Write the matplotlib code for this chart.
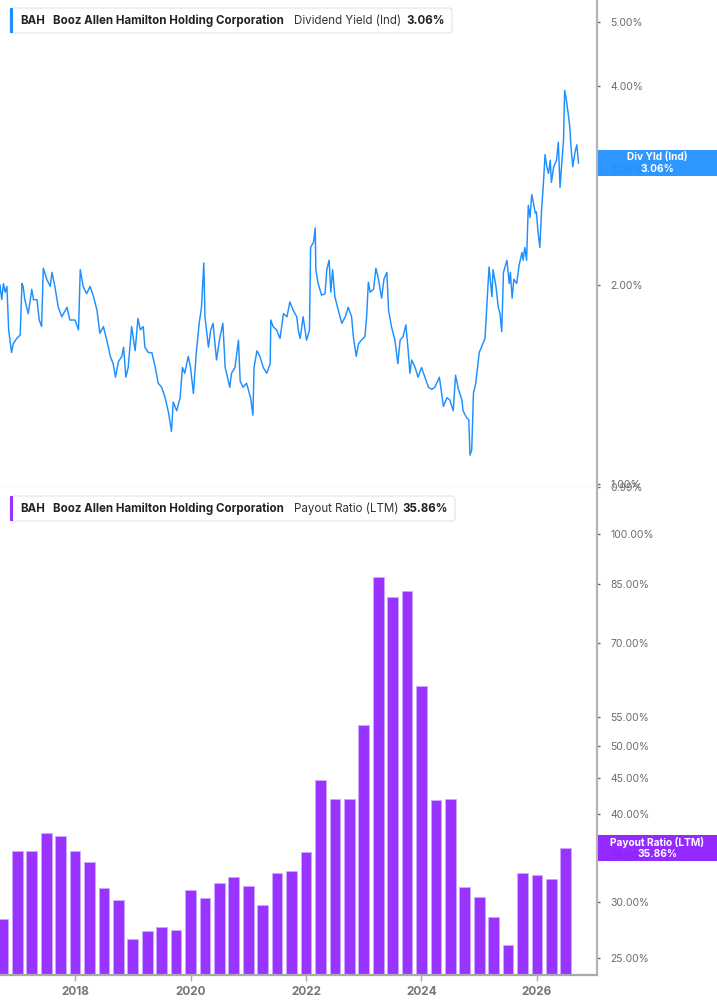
import matplotlib
matplotlib.use("Agg")
import matplotlib.pyplot as plt
from matplotlib.patches import FancyBboxPatch, Rectangle
from matplotlib.ticker import FixedLocator, FuncFormatter, NullLocator

plt.rcParams['font.family'] = ['Inter', 'DejaVu Sans']

# ---------------- data ----------------
ticker = "BAH"
company = "Booz Allen Hamilton Holding Corporation"
top_metric = "Dividend Yield (Ind)"
top_last = "3.06%"
top_tag = "Div Yld (Ind)"
bot_metric = "Payout Ratio (LTM)"
bot_last = "35.86%"
bot_tag = "Payout Ratio (LTM)"

# dividend yield (%), dates as decimal years
yield_dates = [2016.70, 2016.73, 2016.76, 2016.79, 2016.82, 2016.85, 2016.90, 2016.93, 2016.99, 2017.05,
               2017.08, 2017.10, 2017.13, 2017.19, 2017.25, 2017.28, 2017.34, 2017.38, 2017.42, 2017.45,
               2017.51, 2017.57, 2017.60, 2017.65, 2017.71, 2017.77, 2017.86, 2017.91, 2018.00, 2018.06,
               2018.09, 2018.14, 2018.20, 2018.26, 2018.32, 2018.38, 2018.43, 2018.49, 2018.55, 2018.61,
               2018.66, 2018.70, 2018.75, 2018.81, 2018.84, 2018.88, 2018.92, 2018.98, 2019.04, 2019.09,
               2019.13, 2019.18, 2019.21, 2019.27, 2019.33, 2019.39, 2019.44, 2019.50, 2019.56, 2019.62,
               2019.67, 2019.70, 2019.76, 2019.82, 2019.86, 2019.90, 2019.96, 2020.00, 2020.05, 2020.10,
               2020.15, 2020.19, 2020.23, 2020.25, 2020.31, 2020.35, 2020.39, 2020.45, 2020.50, 2020.56,
               2020.60, 2020.68, 2020.71, 2020.77, 2020.83, 2020.86, 2020.91, 2020.97, 2021.04, 2021.08,
               2021.10, 2021.15, 2021.20, 2021.26, 2021.32, 2021.38, 2021.39, 2021.43, 2021.49, 2021.55,
               2021.61, 2021.67, 2021.72, 2021.78, 2021.84, 2021.87, 2021.90, 2021.95, 2022.01, 2022.06,
               2022.08, 2022.13, 2022.16, 2022.17, 2022.21, 2022.27, 2022.33, 2022.36, 2022.40, 2022.43,
               2022.46, 2022.50, 2022.56, 2022.62, 2022.68, 2022.73, 2022.79, 2022.82, 2022.87, 2022.91,
               2022.96, 2023.02, 2023.05, 2023.08, 2023.11, 2023.17, 2023.21, 2023.25, 2023.31, 2023.35,
               2023.40, 2023.43, 2023.48, 2023.54, 2023.59, 2023.63, 2023.68, 2023.73, 2023.77, 2023.80,
               2023.83, 2023.89, 2023.94, 2024.00, 2024.06, 2024.12, 2024.18, 2024.23, 2024.31, 2024.35,
               2024.38, 2024.44, 2024.49, 2024.55, 2024.59, 2024.64, 2024.70, 2024.72, 2024.78, 2024.82,
               2024.84, 2024.87, 2024.90, 2024.94, 2024.97, 2025.00, 2025.05, 2025.10, 2025.13, 2025.17,
               2025.22, 2025.24, 2025.29, 2025.33, 2025.36, 2025.39, 2025.42, 2025.48, 2025.52, 2025.54,
               2025.57, 2025.60, 2025.65, 2025.69, 2025.74, 2025.76, 2025.79, 2025.82, 2025.85, 2025.88,
               2025.91, 2025.94, 2025.97, 2025.99, 2026.02, 2026.05, 2026.08, 2026.11, 2026.14, 2026.17,
               2026.20, 2026.23, 2026.25, 2026.29, 2026.34, 2026.37, 2026.40, 2026.43, 2026.46, 2026.48,
               2026.51, 2026.54, 2026.57, 2026.59, 2026.62, 2026.66, 2026.69, 2026.72]
yield_vals = [2.00, 1.90, 2.01, 1.95, 1.99, 1.71, 1.58, 1.63, 1.66, 1.68,
              2.01, 1.99, 1.90, 1.81, 1.97, 1.90, 1.90, 1.77, 1.73, 2.12,
              2.04, 1.99, 2.09, 1.99, 1.85, 1.79, 1.85, 1.77, 1.77, 1.71,
              2.11, 1.99, 1.94, 1.99, 1.92, 1.83, 1.69, 1.73, 1.65, 1.56,
              1.52, 1.45, 1.53, 1.56, 1.61, 1.45, 1.50, 1.73, 1.59, 1.78,
              1.71, 1.73, 1.61, 1.58, 1.58, 1.50, 1.42, 1.40, 1.35, 1.28,
              1.20, 1.33, 1.29, 1.35, 1.50, 1.47, 1.56, 1.50, 1.37, 1.58,
              1.75, 1.85, 2.16, 1.79, 1.61, 1.71, 1.75, 1.54, 1.65, 1.75,
              1.50, 1.40, 1.47, 1.50, 1.65, 1.43, 1.40, 1.42, 1.35, 1.27,
              1.50, 1.59, 1.56, 1.50, 1.47, 1.52, 1.77, 1.73, 1.71, 1.66,
              1.81, 1.79, 1.885, 1.83, 1.79, 1.70, 1.66, 1.79, 1.65, 1.71,
              2.28, 2.32, 2.44, 2.11, 2.01, 1.93, 1.94, 2.11, 2.18, 1.95,
              2.11, 1.92, 1.83, 1.75, 1.79, 1.85, 1.79, 1.67, 1.56, 1.63,
              1.65, 1.67, 1.79, 2.02, 1.95, 1.97, 2.12, 2.05, 1.91, 2.04,
              2.09, 1.83, 1.73, 1.65, 1.52, 1.65, 1.67, 1.74, 1.59, 1.47,
              1.54, 1.50, 1.45, 1.50, 1.45, 1.40, 1.39, 1.40, 1.45, 1.37,
              1.31, 1.35, 1.34, 1.29, 1.46, 1.39, 1.34, 1.29, 1.26, 1.25,
              1.105, 1.125, 1.37, 1.42, 1.50, 1.58, 1.62, 1.66, 1.85, 2.13,
              1.92, 2.11, 1.99, 1.85, 1.81, 1.70, 2.09, 2.18, 2.01, 2.09,
              1.91, 2.04, 2.01, 2.14, 2.24, 2.18, 2.28, 2.18, 2.64, 2.53,
              2.74, 2.66, 2.57, 2.58, 2.40, 2.28, 2.60, 2.83, 3.15, 3.02,
              2.95, 3.09, 2.86, 3.02, 3.09, 3.29, 2.81, 3.06, 3.31, 3.94,
              3.81, 3.64, 3.46, 3.23, 3.02, 3.18, 3.26, 3.06]

# payout ratio (%) by quarter
payout_dates = [2016.75, 2017.00, 2017.25, 2017.50, 2017.75, 2018.00, 2018.25, 2018.50, 2018.75, 2019.00,
                2019.25, 2019.50, 2019.75, 2020.00, 2020.25, 2020.50, 2020.75, 2021.00, 2021.25, 2021.50,
                2021.75, 2022.00, 2022.25, 2022.50, 2022.75, 2023.00, 2023.25, 2023.50, 2023.75, 2024.00,
                2024.25, 2024.50, 2024.75, 2025.00, 2025.25, 2025.50, 2025.75, 2026.00, 2026.25, 2026.50]
payout_vals = [28.4, 35.5, 35.5, 37.6, 37.3, 35.4, 34.2, 31.4, 30.2, 26.6,
               27.3, 27.6, 27.4, 31.2, 30.4, 31.9, 32.6, 31.6, 29.7, 33.0,
               33.2, 35.3, 44.7, 42.1, 42.1, 53.5, 86.9, 81.4, 83.0, 60.9,
               41.9, 42.1, 31.5, 30.5, 28.6, 26.1, 33.0, 32.8, 32.4, 35.86]

top_ticks = [0.99, 1.0, 2.0, 3.0, 4.0, 5.0]
bot_ticks = [25, 30, 35, 40, 45, 50, 55, 70, 85, 100]
x_ticks = [2018, 2020, 2022, 2024, 2026]

# ---------------- styling ----------------
W, H = 717, 1005
BLUE = '#1e8fff'
PURPLE = '#9933ff'
PURPLE_TAG = '#8c1aff'
SPINE = '#b5b5b5'

def fx(p):
    return p / W

def fy(p):
    return 1 - p / H

fig = plt.figure(figsize=(W / 100, H / 100), dpi=100)
fig.patch.set_facecolor('white')

ax1 = fig.add_axes([0, fy(487), fx(597), 487 / H])
ax2 = fig.add_axes([0, fy(975), fx(597), (975 - 487) / H])

pct = FuncFormatter(lambda v, p: f"{v:.2f}%")

for ax in (ax1, ax2):
    ax.set_yscale('log')
    ax.yaxis.tick_right()
    ax.spines['left'].set_visible(False)
    ax.spines['top'].set_visible(False)
    ax.spines['right'].set_color(SPINE)
    ax.spines['right'].set_linewidth(1.6)
    ax.set_xlim(2016.70, 2027.04)
    ax.yaxis.set_minor_locator(NullLocator())
    ax.yaxis.set_major_formatter(pct)
    ax.tick_params(axis='y', direction='out', length=2.5, width=1, color='#666666',
                   labelsize=7.5, labelcolor='#6b6b6b', pad=7)
    ax.set_facecolor('white')

# top panel
ax1.set_ylim(0.989, 5.40)
ax1.yaxis.set_major_locator(FixedLocator(top_ticks))
ax1.spines['bottom'].set_color('#d8d8d8')
ax1.spines['bottom'].set_linewidth(1.0)
ax1.set_xticks([])
ax1.plot(yield_dates, yield_vals, color=BLUE, lw=1.05, solid_joinstyle='round')

# bottom panel
lo = 23.62
ax2.set_ylim(lo, 116.8)
ax2.yaxis.set_major_locator(FixedLocator(bot_ticks))
ax2.spines['bottom'].set_color('#aaaaaa')
ax2.spines['bottom'].set_linewidth(1.6)
ax2.bar(payout_dates, [v - lo for v in payout_vals], bottom=lo, width=0.185,
        color=PURPLE, edgecolor='#cfa8ff', linewidth=0.6, zorder=2)
ax2.set_xticks(x_ticks)
ax2.set_xticklabels([str(t) for t in x_ticks], fontweight='bold', fontsize=8.5, color='#777777')
ax2.tick_params(axis='x', direction='out', length=4, width=1, color='#aaaaaa', pad=4)

# legend boxes
def legend_box(y0, y1, x1, color, metric, last):
    box = FancyBboxPatch((fx(10), fy(y1)), fx(x1) - fx(10), fy(y0) - fy(y1),
                         boxstyle="round,pad=0,rounding_size=0.004",
                         transform=fig.transFigure, facecolor='white',
                         edgecolor='#e3e3e3', linewidth=0.8, zorder=5)
    fig.add_artist(box)
    bar = Rectangle((fx(10), fy(y1)), fx(13) - fx(10), fy(y0) - fy(y1),
                    transform=fig.transFigure, facecolor=color, edgecolor='none', zorder=6)
    fig.add_artist(bar)
    yc = fy((y0 + y1) / 2)
    fig.text(fx(20), yc, ticker, fontsize=8.3, fontweight='bold', color='#222222', va='center', zorder=7)
    fig.text(fx(53), yc, company, fontsize=8.3, fontweight='bold', color='#222222', va='center', zorder=7)
    fig.text(fx(294), yc, metric, fontsize=8.3, color='#333333', va='center', zorder=7)
    fig.text(fx(x1 - 7), yc, last, fontsize=8.3, fontweight='bold', color='#222222',
             va='center', ha='right', zorder=7)

legend_box(8, 33, 452, BLUE, top_metric, top_last)
legend_box(496, 521, 455, PURPLE, bot_metric, bot_last)

# right value tags (slightly translucent, tick label shows faintly beneath as in the reference)
def tag(y0, y1, color, l1, l2):
    r = Rectangle((fx(598), fy(y1)), 1 - fx(598), fy(y0) - fy(y1), transform=fig.transFigure,
                  facecolor=color, edgecolor='none', alpha=0.93, zorder=8)
    fig.add_artist(r)
    xc = fx(657)
    fig.text(xc, fy(y0 + 7), l1, ha='center', va='center', fontsize=7.3, fontweight='bold',
             color='white', zorder=9)
    fig.text(xc, fy(y0 + 18.5), l2, ha='center', va='center', fontsize=7.3, fontweight='bold',
             color='white', zorder=9)

tag(150, 176, BLUE, top_tag, top_last)
tag(835, 861, PURPLE_TAG, bot_tag, bot_last)

fig.savefig("out.png", dpi=100, facecolor='white')
